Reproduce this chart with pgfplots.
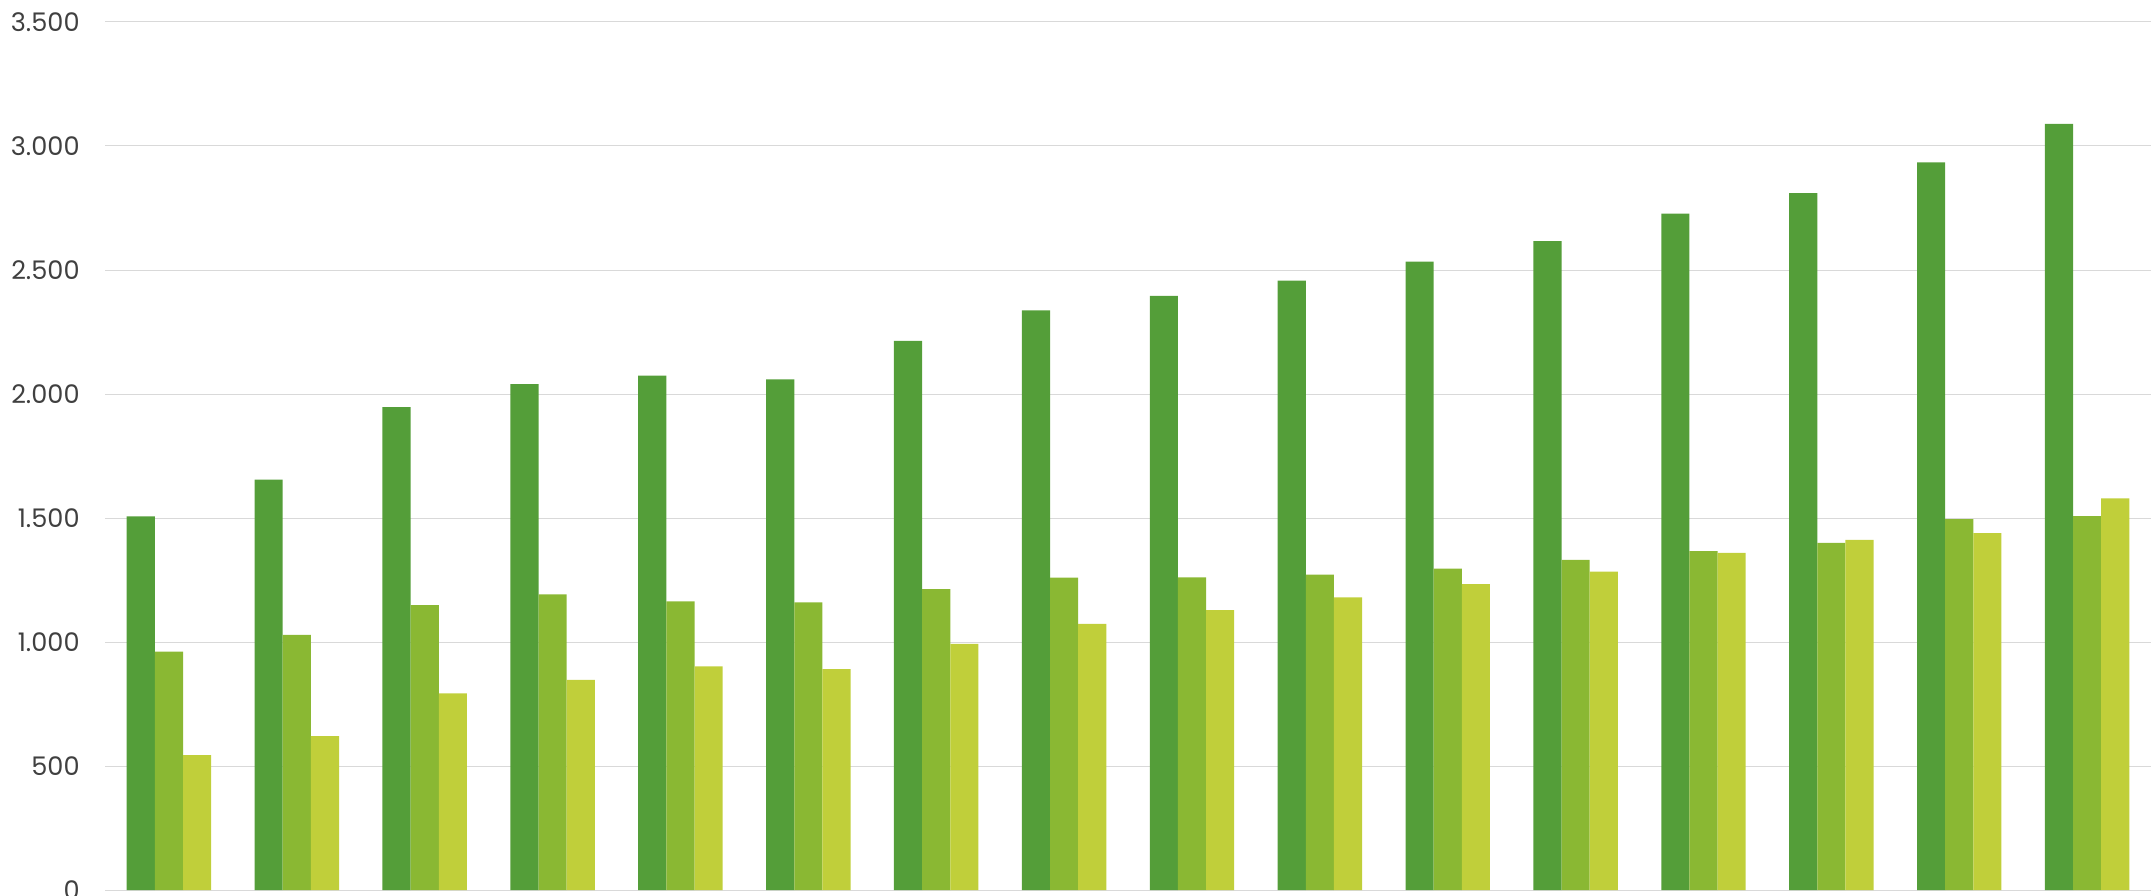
\documentclass[border=0pt]{standalone}
\usepackage{pgfplots}
\pgfplotsset{compat=1.18}
\usepackage{fontspec}
\setmainfont{Poppins}
\definecolor{gA}{HTML}{549E39}
\definecolor{gB}{HTML}{8AB833}
\definecolor{gC}{HTML}{C0CF3A}
\definecolor{txt}{HTML}{404040}
\definecolor{grd}{HTML}{D9D9D9}
\begin{document}
\begin{tikzpicture}
\begin{axis}[
  scale only axis,
  at={(52.5pt,2.5pt)}, anchor=south west,
  width=1023pt, height=434pt,
  xmin=-0.5, xmax=15.5,
  ymin=0, ymax=3500,
  ytick={0,500,...,3500},
  xtick=\empty,
  ymajorgrids,
  grid style={grd, line width=0.5pt},
  axis line style={draw=none},
  major tick length=0pt,
  scaled y ticks=false,
  /pgf/number format/.cd, 1000 sep={.}, assume math mode=true,
  /pgfplots/.cd,
  yticklabel style={font=\fontsize{12.8}{15}\selectfont, text=txt, anchor=east, inner sep=0pt, xshift=-12.5pt},
  ybar, bar width=0.22,
  clip=false,
]
\addplot[fill=gA, draw=none, bar shift=-0.22] coordinates {
  (0,1507) (1,1655) (2,1947) (3,2040) (4,2074) (5,2059) (6,2214) (7,2337)
  (8,2396) (9,2457) (10,2534) (11,2616) (12,2727) (13,2810) (14,2934) (15,3089)
};
\addplot[fill=gB, draw=none, bar shift=0] coordinates {
  (0,961) (1,1029) (2,1149) (3,1192) (4,1164) (5,1160) (6,1213) (7,1260)
  (8,1261) (9,1272) (10,1296) (11,1331) (12,1366) (13,1400) (14,1495) (15,1508)
};
\addplot[fill=gC, draw=none, bar shift=0.22] coordinates {
  (0,544) (1,620) (2,793) (3,847) (4,902) (5,891) (6,992) (7,1073)
  (8,1129) (9,1180) (10,1233) (11,1284) (12,1359) (13,1412) (14,1439) (15,1579)
};
\end{axis}
\pgfresetboundingbox
\useasboundingbox (0,0) rectangle (1078pt,447.5pt);
\end{tikzpicture}
\end{document}
